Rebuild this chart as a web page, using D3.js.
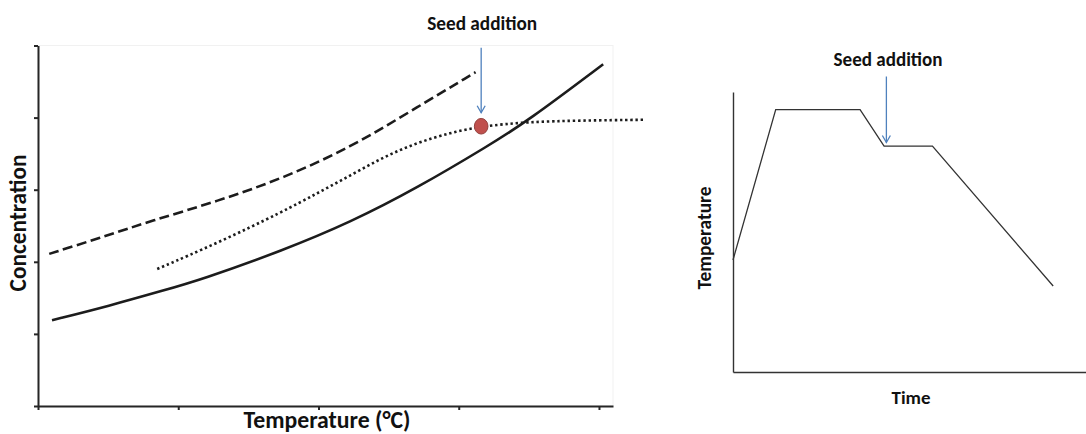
<!DOCTYPE html>
<html>
<head>
<meta charset="utf-8">
<script src="https://cdn.jsdelivr.net/npm/d3@7"></script>
<style>
  html, body { margin: 0; padding: 0; background: #fff; }
  svg { display: block; }
  text { font-family: Carlito, Calibri, Lato, "Open Sans", sans-serif; font-weight: bold; fill: #111; }
</style>
</head>
<body>
<svg id="chart" width="1086" height="434"></svg>
<script>
// ---- Left panel: solubility / supersaturation curves ----
const tempTicks = [0, 1, 2, 3, 4];
const concTicks = [0, 1, 2, 3, 4, 5];

// solubility curve (solid)
const solubilityT = [0.10, 0.51, 0.89, 1.16, 1.75, 2.23, 2.70, 3.22, 3.49, 4.03];
const solubilityC = [1.19, 1.39, 1.60, 1.75, 2.16, 2.55, 3.02, 3.62, 3.95, 4.74];

// metastable limit (dashed)
const metastableT = [0.08, 0.44, 0.81, 1.28, 1.75, 2.23, 2.65, 3.12];
const metastableC = [2.11, 2.33, 2.57, 2.84, 3.16, 3.59, 4.08, 4.63];

// operating trajectory (dotted)
const trajectoryT = [0.85, 1.28, 1.75, 1.99, 2.23, 2.46, 2.70, 2.94, 3.16, 3.49, 3.87, 4.33];
const trajectoryC = [1.90, 2.26, 2.70, 2.95, 3.20, 3.45, 3.65, 3.79, 3.88, 3.94, 3.96, 3.97];

// seeding point
const seedT = [3.16];
const seedC = [3.88];

// ---- Right panel: temperature programme ----
const timeSteps = [0, 12.1, 36.0, 42.8, 56.5, 90.7];
const tempSteps = [40.0, 93.7, 93.7, 80.7, 80.7, 30.7];
const seedTime = [42.8];
const seedTemp = [80.7];

const labels = {
  seed: "Seed addition",
  leftX: "Temperature (\u00B0C)",
  leftY: "Concentration",
  rightX: "Time",
  rightY: "Temperature"
};

const svg = d3.select("#chart");
const ink = "#1c1c1c";
const arrowBlue = "#4f81bd";

// Fit a text element to a target width by scaling its font size
function fitText(sel, size, width) {
  sel.style("font-size", size + "px");
  const len = sel.node().getComputedTextLength();
  sel.style("font-size", (size * width / len).toFixed(2) + "px");
  return sel;
}

function drawArrow(g, x, y0, y1) {
  g.append("line")
    .attr("x1", x).attr("x2", x).attr("y1", y0).attr("y2", y1)
    .attr("stroke", arrowBlue).attr("stroke-width", 1.3);
  g.append("path")
    .attr("d", d3.line()([[x - 4, y1 - 7], [x, y1], [x + 4, y1 - 7]]))
    .attr("fill", "none").attr("stroke", arrowBlue).attr("stroke-width", 1.3);
}

// ================= Left panel =================
const xL = d3.scaleLinear().domain([0, 4.1]).range([38, 613]);
const yL = d3.scaleLinear().domain([0, 5]).range([406, 45.5]);

const left = svg.append("g");

// faint plot frame
left.append("rect")
  .attr("x", xL(0)).attr("y", yL(5))
  .attr("width", xL(4.1) - xL(0)).attr("height", yL(0) - yL(5))
  .attr("fill", "none").attr("stroke", "#f1f1f1").attr("stroke-width", 1);

const axL = left.append("g").attr("transform", `translate(${xL(0)},0)`)
  .call(d3.axisLeft(yL).tickValues(concTicks).tickSize(4).tickSizeOuter(0).tickFormat(""));
const axB = left.append("g").attr("transform", `translate(0,${yL(0)})`)
  .call(d3.axisBottom(xL).tickValues(tempTicks).tickSize(4).tickSizeOuter(0).tickFormat(""));
[axL, axB].forEach(a => {
  a.selectAll("path, line").attr("stroke", "#262626").attr("stroke-width", 2);
});

// smooth B-spline through the sampled curve points
const lineL = d3.line().x(d => xL(d[0])).y(d => yL(d[1])).curve(d3.curveBasis);

left.append("path")
  .datum(solubilityT.map((t, i) => [t, solubilityC[i]]))
  .attr("d", lineL).attr("fill", "none")
  .attr("stroke", ink).attr("stroke-width", 2.6);

left.append("path")
  .datum(metastableT.map((t, i) => [t, metastableC[i]]))
  .attr("d", lineL).attr("fill", "none")
  .attr("stroke", ink).attr("stroke-width", 2.6)
  .attr("stroke-dasharray", "10,4.5");

left.append("path")
  .datum(trajectoryT.map((t, i) => [t, trajectoryC[i]]))
  .attr("d", lineL).attr("fill", "none")
  .attr("stroke", ink).attr("stroke-width", 2.6)
  .attr("stroke-dasharray", "2.4,2.8");

left.selectAll("ellipse.seed")
  .data(seedT.map((t, i) => [t, seedC[i]]))
  .join("ellipse").attr("class", "seed")
  .attr("cx", d => xL(d[0])).attr("cy", d => yL(d[1]))
  .attr("rx", 6.8).attr("ry", 7.8)
  .attr("fill", "#c0504d").attr("stroke", "#93403d").attr("stroke-width", 1);

drawArrow(left, xL(seedT[0]), yL(4.97), yL(seedC[0]) - 13.5);

fitText(left.append("text")
  .attr("x", xL(seedT[0]) + 1).attr("y", 29.5).attr("text-anchor", "middle")
  .text(labels.seed), 17, 110);

fitText(left.append("text")
  .attr("x", 327).attr("y", 427.5).attr("text-anchor", "middle")
  .text(labels.leftX), 22, 167);

fitText(left.append("text")
  .attr("transform", "translate(26,223) rotate(-90)")
  .attr("text-anchor", "middle")
  .text(labels.leftY), 22, 137);

// ================= Right panel =================
const xR = d3.scaleLinear().domain([0, 100]).range([733, 1086]);
const yR = d3.scaleLinear().domain([0, 100]).range([372, 92]);

const right = svg.append("g");

const axRL = right.append("g").attr("transform", `translate(${xR(0)},0)`)
  .call(d3.axisLeft(yR).tickValues([]).tickSizeOuter(0));
const axRB = right.append("g").attr("transform", `translate(0,${yR(0)})`)
  .call(d3.axisBottom(xR).tickValues([]).tickSizeOuter(0));
[axRL, axRB].forEach(a => a.selectAll("path").attr("stroke", "#333").attr("stroke-width", 1.4));

right.append("path")
  .datum(timeSteps.map((t, i) => [t, tempSteps[i]]))
  .attr("d", d3.line().x(d => xR(d[0])).y(d => yR(d[1])))
  .attr("fill", "none").attr("stroke", "#333").attr("stroke-width", 1.3)
  .attr("stroke-linejoin", "miter");

drawArrow(right, xR(seedTime[0]) + 2.3, 76.5, yR(seedTemp[0]) - 3.5);

fitText(right.append("text")
  .attr("x", 888).attr("y", 65.5).attr("text-anchor", "middle")
  .text(labels.seed), 17, 109);

fitText(right.append("text")
  .attr("x", 911).attr("y", 404).attr("text-anchor", "middle")
  .text(labels.rightX), 16, 39);

fitText(right.append("text")
  .attr("transform", "translate(711,238) rotate(-90)")
  .attr("text-anchor", "middle")
  .text(labels.rightY), 16, 103);
</script>
</body>
</html>
